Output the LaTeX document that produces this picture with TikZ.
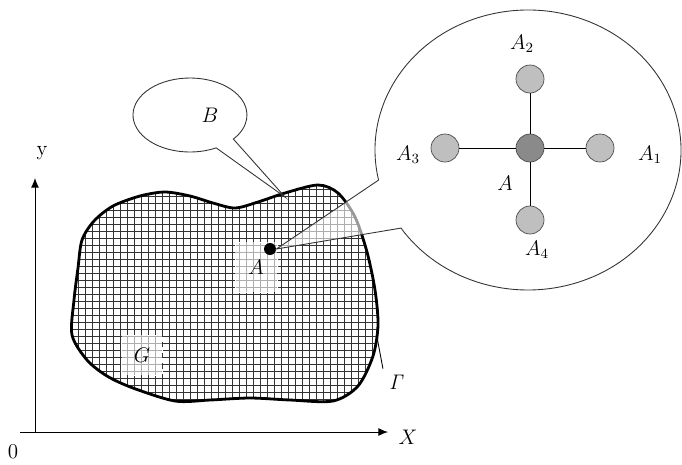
\documentclass[tikz,border=0pt]{standalone}
\usetikzlibrary{calc}
\usetikzlibrary{arrows.meta}

\begin{document}
\begin{tikzpicture}[x=0.02cm, y=-0.02cm, font=\large,
    axis/.style={line width=0.5pt, -{Latex[length=5.5pt,width=4.5pt]}},
    gridline/.style={line width=0.6pt, black!80},
    point/.style={circle, draw=black!70, minimum size=0.56cm, inner sep=0pt},
    labelbox/.style={fill=white, fill opacity=0.6, text opacity=1, draw=white, dashed, inner sep=0pt},
    bubble/.style={draw=black!80, line width=0.5pt, fill=white, fill opacity=0.6}]
    \useasboundingbox (0,0) rectangle (682,464);

    % axes
    \coordinate (xstart) at (20,432);
    \coordinate (xend) at (388,432);
    \coordinate (o) at (35,432);
    \coordinate (yend) at (35,178);
    \draw [axis] (xstart) -- (xend);
    \draw [axis] (o) -- (yend);
    \node (lx) at (408,437) {$X$};
    \node (ly) at (42,153) {y};
    \node (lo) at (13,452) {0};

    % region G with its mesh
    \def\blob{plot[smooth cycle] coordinates {(165,192) (190,196) (213,203) (235,208) (258,202) (285,193) (318,185) (338,193) (355,217) (367,252) (375,290) (378,325) (373,356) (358,386) (333,401) (290,400) (250,398) (210,400) (175,401) (133,388) (107,376) (87,360) (72,335) (74,300) (78,268) (82,240) (94,221) (113,206) (140,196)}}
    \begin{scope}
        \clip \blob;
        \foreach \gx in {71.5,78.5,...,382} \draw [gridline] (\gx,180) -- (\gx,405);
        \foreach \gy in {182.5,189.5,...,406} \draw [gridline] (68,\gy) -- (382,\gy);
    \end{scope}
    \draw [line width=1.6pt] \blob;

    \node [labelbox, minimum width=0.84cm, minimum height=1cm] (labA) at (256,267) {$A$};
    \node [labelbox, minimum width=0.82cm, minimum height=0.8cm] (labG) at (142,355) {$G$};

    % boundary
    \coordinate (gam) at (377,337);
    \node (lGam) at (397,382) {$\mathit{\Gamma}$};
    \draw [line width=0.5pt] (gam) -- (lGam.north west);

    % callout B
    \coordinate (Bc) at (190,115);
    \coordinate (tipB) at (285,197);
    \draw [bubble] (tipB) -- ([shift={(62.7:57 and 37)}]Bc) arc [start angle=62.7, end angle=400.5, x radius=57, y radius=37] -- cycle;
    \node (lB) at (210,115) {$B$};

    % the point A and its zoom
    \node [circle, fill=black, minimum size=0.24cm, inner sep=0pt] (dot) at (270,249) {};
    \coordinate (Ac) at (528,150);
    \draw [bubble] (dot.east) -- ([shift={(167.6:153 and 140)}]Ac) arc [start angle=167.6, end angle=506.1, x radius=153, y radius=140] -- cycle;

    \node [point, fill=black!46] (A) at (530,148) {};
    \node [point, fill=black!25] (A1) at (600,148) {};
    \node [point, fill=black!25] (A2) at (530,79) {};
    \node [point, fill=black!25] (A3) at (445,148) {};
    \node [point, fill=black!25] (A4) at (530,220) {};
    \foreach \k in {1,...,4} \draw [line width=0.5pt] (A) -- (A\k);

    \node (lA) at (505,183) {$A$};
    \node (lA1) at (650,155) {$A_1$};
    \node (lA2) at (522,44) {$A_2$};
    \node (lA3) at (408,155) {$A_3$};
    \node (lA4) at (537,250) {$A_4$};
\end{tikzpicture}
\end{document}
